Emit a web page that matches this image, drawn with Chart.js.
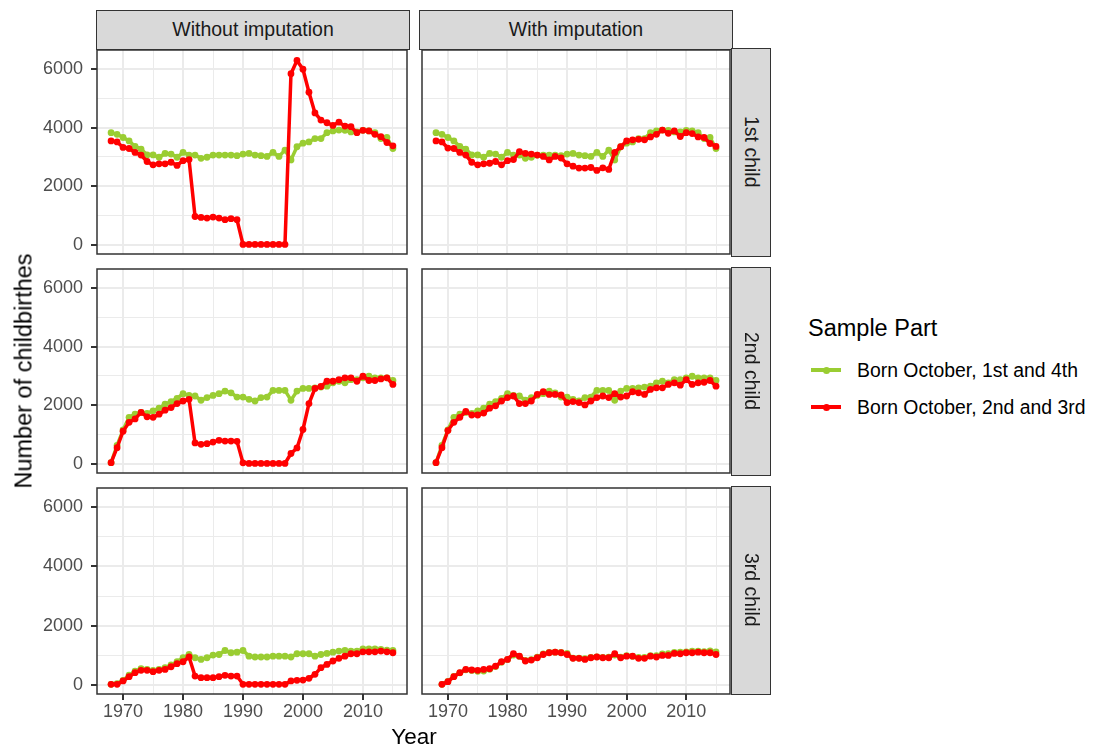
<!DOCTYPE html>
<html>
<head>
<meta charset="utf-8">
<script src="https://cdn.jsdelivr.net/npm/chart.js@4.4.1/dist/chart.umd.min.js"></script>
<style>
  body { margin: 0; background: #fff; overflow: hidden; }
  #plot { position: relative; width: 1097px; height: 753px; font-family: "Liberation Sans", Arial, sans-serif; }
  #plot canvas { position: absolute; }
  .strip { position: absolute; box-sizing: border-box; background: #D9D9D9; border: 1.5px solid #333;
           color: #1A1A1A; font-size: 19.5px; display: flex; align-items: center; justify-content: center; }
  .strip.right { writing-mode: vertical-rl; }
  .title { position: absolute; color: #000; font-size: 22.5px; line-height: 1.15; white-space: nowrap; }
  .legend-title { position: absolute; left: 808px; top: 315px; font-size: 23.5px; line-height: 1.15; }
  .legend-item { position: absolute; left: 811px; height: 24px; display: flex; align-items: center; font-size: 19.4px; white-space: nowrap; }
  .key { position: relative; width: 30px; height: 4px; margin-right: 16px; }
  .key i { position: absolute; left: 11.5px; top: -1.5px; width: 7px; height: 7px; border-radius: 50%; }
</style>
</head>
<body>
<div id="plot"></div>
<script>
const years = [1968, 1969, 1970, 1971, 1972, 1973, 1974, 1975, 1976, 1977,
               1978, 1979, 1980, 1981, 1982, 1983, 1984, 1985, 1986, 1987,
               1988, 1989, 1990, 1991, 1992, 1993, 1994, 1995, 1996, 1997,
               1998, 1999, 2000, 2001, 2002, 2003, 2004, 2005, 2006, 2007,
               2008, 2009, 2010, 2011, 2012, 2013, 2014, 2015];
const xTicks = [1970, 1975, 1980, 1985, 1990, 1995, 2000, 2005, 2010, 2015];
const xTickLabels = ['1970', '', '1980', '', '1990', '', '2000', '', '2010', ''];
const yTicks = [0, 1000, 2000, 3000, 4000, 5000, 6000];
const yTickLabels = ['0', '', '2000', '', '4000', '', '6000'];

const colTitles = ['Without imputation', 'With imputation'];
const rowTitles = ['1st child', '2nd child', '3rd child'];
const seriesNames = ['Born October, 1st and 4th', 'Born October, 2nd and 3rd'];
const seriesColors = ['#9ACD32', '#FF0000'];

// 1st child
const green1st = [3830, 3775, 3665, 3550, 3360, 3270, 3070, 3070, 2990, 3120,
                  3100, 2990, 3155, 3065, 3065, 2955, 2990, 3065, 3065, 3065,
                  3065, 3045, 3100, 3120, 3065, 3045, 3020, 3155, 3020, 3235,
                  2900, 3350, 3470, 3515, 3630, 3630, 3830, 3890, 3920, 3910,
                  3855, 3855, 3910, 3890, 3830, 3630, 3665, 3290];
const red1stWithout = [3550, 3515, 3325, 3290, 3155, 3065, 2845, 2730, 2765, 2765,
                       2820, 2710, 2875, 2910, 965, 935, 910, 945, 910, 855,
                       890, 855, 10, 10, 10, 10, 10, 10, 10, 10,
                       5845, 6300, 6000, 5215, 4505, 4260, 4170, 4080, 4190, 4055,
                       4035, 3830, 3910, 3890, 3775, 3695, 3495, 3380];
const red1stWith = [3550, 3515, 3305, 3290, 3155, 3065, 2820, 2730, 2765, 2785,
                    2845, 2730, 2875, 2910, 3180, 3120, 3100, 3065, 3020, 2900,
                    3020, 2965, 2765, 2685, 2620, 2620, 2640, 2540, 2630, 2575,
                    3155, 3350, 3550, 3585, 3605, 3585, 3685, 3775, 3920, 3810,
                    3890, 3700, 3830, 3800, 3685, 3665, 3460, 3360];

// 2nd child
const green2nd = [35, 630, 1155, 1585, 1695, 1755, 1720, 1810, 1900, 2035,
                  2125, 2235, 2395, 2335, 2315, 2170, 2260, 2335, 2395, 2485,
                  2425, 2280, 2280, 2200, 2145, 2260, 2280, 2505, 2505, 2505,
                  2170, 2485, 2575, 2575, 2595, 2620, 2650, 2765, 2820, 2765,
                  2875, 2875, 2935, 2990, 2935, 2935, 2935, 2845];
const red2ndWithout = [35, 550, 1110, 1415, 1530, 1755, 1605, 1585, 1695, 1830,
                       1920, 2055, 2145, 2200, 710, 665, 685, 740, 800, 775,
                       775, 765, 30, 10, 10, 10, 10, 10, 10, 10,
                       350, 540, 1170, 2055, 2575, 2640, 2820, 2820, 2875, 2935,
                       2935, 2820, 2990, 2845, 2845, 2900, 2935, 2710];
const red2ndWith = [35, 550, 1135, 1415, 1585, 1785, 1665, 1665, 1730, 1900,
                    1980, 2145, 2260, 2315, 2055, 2055, 2145, 2370, 2460, 2370,
                    2370, 2350, 2090, 2125, 2090, 2010, 2145, 2260, 2315, 2260,
                    2395, 2280, 2315, 2460, 2425, 2370, 2540, 2595, 2595, 2710,
                    2765, 2685, 2875, 2710, 2765, 2785, 2845, 2650];

// 3rd child
const green3rdWithout = [10, 35, 145, 325, 460, 540, 515, 485, 515, 575,
                         665, 775, 910, 1020, 910, 855, 910, 1000, 1020, 1155,
                         1080, 1100, 1155, 965, 935, 935, 935, 965, 965, 965,
                         935, 1045, 1045, 1045, 965, 1020, 1055, 1100, 1135, 1155,
                         1135, 1135, 1210, 1210, 1210, 1190, 1170, 1155];
const red3rdWithout = [10, 10, 125, 270, 405, 485, 485, 440, 485, 515,
                       605, 710, 775, 935, 290, 235, 235, 235, 270, 315,
                       290, 290, 10, 10, 10, 10, 10, 10, 10, 10,
                       125, 145, 155, 215, 350, 575, 685, 800, 890, 965,
                       1045, 1045, 1110, 1110, 1110, 1135, 1110, 1080];
const green3rdWith = [null, 10, 110, 280, 400, 500, 480, 450, 460, 520,
                      610, 760, 850, 1000, 960, 820, 850, 930, 1040, 1090,
                      1100, 1090, 1060, 900, 900, 880, 920, 940, 920, 930,
                      1000, 930, 980, 960, 920, 920, 980, 980, 1040, 1050,
                      1090, 1100, 1110, 1130, 1130, 1120, 1140, 1110];
const red3rdWith = [null, 10, 100, 270, 405, 515, 495, 485, 515, 540,
                    630, 775, 855, 1045, 965, 800, 830, 910, 1020, 1080,
                    1100, 1080, 1020, 890, 890, 855, 910, 935, 910, 910,
                    1045, 910, 965, 965, 890, 890, 965, 935, 990, 990,
                    1055, 1045, 1080, 1080, 1100, 1080, 1080, 1020];

const panels = [
  { row: 0, col: 0, green: green1st, red: red1stWithout },
  { row: 0, col: 1, green: green1st, red: red1stWith },
  { row: 1, col: 0, green: green2nd, red: red2ndWithout },
  { row: 1, col: 1, green: green2nd, red: red2ndWith },
  { row: 2, col: 0, green: green3rdWithout, red: red3rdWithout },
  { row: 2, col: 1, green: green3rdWith, red: red3rdWith }
];

const X_MIN = 1965.65, X_MAX = 2017.35;
const Y_MIN = -317, Y_MAX = 6657;
const colX = [97, 420];
const rowY = [48, 267, 486];
const PW = 312, PH = 208;
const FONT = 'Liberation Sans';
const plot = document.getElementById('plot');

const panelBorder = {
  id: 'panelBorder',
  afterDraw(chart) {
    const { ctx, chartArea: a } = chart;
    ctx.save();
    ctx.strokeStyle = '#333333';
    ctx.lineWidth = 1.5;
    ctx.strokeRect(a.left, a.top, a.right - a.left, a.bottom - a.top);
    ctx.restore();
  }
};

function pts(arr) {
  return years.map((yr, i) => ({ x: yr, y: arr[i] }));
}

panels.forEach(p => {
  const showY = p.col === 0;
  const showX = p.row === 2;
  const axisW = showY ? 97 : 2;
  const axisH = showX ? 42 : 2;

  const canvas = document.createElement('canvas');
  const w = axisW + PW + 2;
  const h = 2 + PH + axisH;
  canvas.width = w;
  canvas.height = h;
  canvas.style.width = w + 'px';
  canvas.style.height = h + 'px';
  canvas.style.left = (colX[p.col] - axisW) + 'px';
  canvas.style.top = (rowY[p.row] - 2) + 'px';
  plot.appendChild(canvas);

  const line = (arr, k, order) => ({
    label: seriesNames[k],
    data: pts(arr),
    borderColor: seriesColors[k],
    backgroundColor: seriesColors[k],
    pointBackgroundColor: seriesColors[k],
    borderWidth: 3.5,
    pointRadius: 3.4,
    pointBorderWidth: 0,
    tension: 0,
    order
  });

  new Chart(canvas, {
    type: 'line',
    data: { datasets: [line(p.green, 0, 2), line(p.red, 1, 1)] },
    options: {
      responsive: false,
      animation: false,
      layout: { padding: { top: 2, right: 2, left: 0, bottom: 0 } },
      plugins: { legend: { display: false }, tooltip: { enabled: false } },
      scales: {
        x: {
          type: 'linear', min: X_MIN, max: X_MAX,
          afterBuildTicks: a => { a.ticks = xTicks.map(v => ({ value: v })); },
          afterFit: a => { a.height = axisH; a.paddingLeft = 0; a.paddingRight = 0; },
          border: { display: false },
          grid: {
            color: '#EBEBEB',
            lineWidth: c => xTickLabels[c.index] ? 2 : 1,
            drawTicks: showX,
            tickLength: 6,
            tickWidth: 2,
            tickColor: c => xTickLabels[c.index] ? '#333333' : 'rgba(0,0,0,0)'
          },
          ticks: {
            display: showX, autoSkip: false, maxRotation: 0, padding: 1,
            color: '#4D4D4D', font: { family: FONT, size: 18 },
            callback: (v, i) => xTickLabels[i]
          }
        },
        y: {
          type: 'linear', min: Y_MIN, max: Y_MAX,
          afterBuildTicks: a => { a.ticks = yTicks.map(v => ({ value: v })); },
          afterFit: a => { a.width = axisW; a.paddingTop = 0; a.paddingBottom = 0; },
          border: { display: false },
          grid: {
            color: '#EBEBEB',
            lineWidth: c => yTickLabels[c.index] ? 2 : 1,
            drawTicks: showY,
            tickLength: 6,
            tickWidth: 2,
            tickColor: c => yTickLabels[c.index] ? '#333333' : 'rgba(0,0,0,0)'
          },
          ticks: {
            display: showY, padding: 8,
            color: '#4D4D4D', font: { family: FONT, size: 18 },
            callback: (v, i) => yTickLabels[i]
          }
        }
      }
    },
    plugins: [panelBorder]
  });
});

// facet strips
colTitles.forEach((t, c) => {
  const d = document.createElement('div');
  d.className = 'strip';
  d.textContent = t;
  Object.assign(d.style, { left: (colX[c] - 1) + 'px', top: '10px', width: (PW + 2) + 'px', height: '39.5px' });
  plot.appendChild(d);
});
rowTitles.forEach((t, r) => {
  const d = document.createElement('div');
  d.className = 'strip right';
  d.textContent = t;
  Object.assign(d.style, { left: (colX[1] + PW - 1) + 'px', top: (rowY[r] - 0.5) + 'px', width: '40px', height: (PH + 1) + 'px' });
  plot.appendChild(d);
});

// axis titles
const xt = document.createElement('div');
xt.className = 'title';
xt.textContent = 'Year';
Object.assign(xt.style, { left: '414px', top: '724px', transform: 'translateX(-50%)' });
plot.appendChild(xt);

const yt = document.createElement('div');
yt.className = 'title';
yt.textContent = 'Number of childbirthes';
Object.assign(yt.style, { left: '24px', top: '371px', fontSize: '23.5px', transform: 'translate(-50%, -50%) rotate(-90deg)' });
plot.appendChild(yt);

// legend
const lt = document.createElement('div');
lt.className = 'legend-title';
lt.textContent = 'Sample Part';
plot.appendChild(lt);
[358, 395].forEach((top, k) => {
  const it = document.createElement('div');
  it.className = 'legend-item';
  it.style.top = top + 'px';
  it.innerHTML = `<span class="key" style="background:${seriesColors[k]}"><i style="background:${seriesColors[k]}"></i></span>${seriesNames[k]}`;
  plot.appendChild(it);
});
</script>
</body>
</html>
